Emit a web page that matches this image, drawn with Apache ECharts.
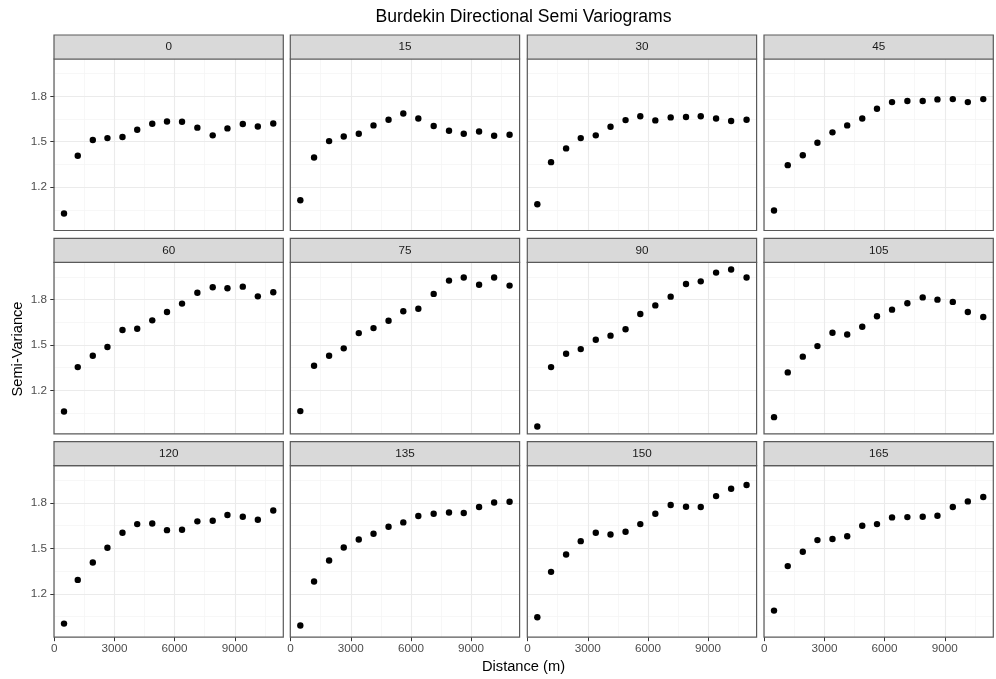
<!DOCTYPE html>
<html><head><meta charset="utf-8">
<script src="https://cdn.jsdelivr.net/npm/echarts@6/dist/echarts.min.js"></script>
<style>html,body{margin:0;padding:0;background:#fff}#c{width:996px;height:679px}</style>
</head><body><div id="c"></div>
<script>
// ---- data ----
const directions = ['0','15','30','45','60','75','90','105','120','135','150','165'];
const distance = [485,1170,1920,2650,3400,4135,4885,5620,6370,7135,7900,8635,9400,10150,10920];
const sv0   = [1.025,1.407,1.511,1.524,1.531,1.579,1.619,1.634,1.632,1.593,1.542,1.588,1.617,1.601,1.621];
const sv15  = [1.113,1.396,1.504,1.535,1.553,1.608,1.645,1.687,1.654,1.604,1.573,1.553,1.568,1.540,1.546];
const sv30  = [1.087,1.365,1.456,1.524,1.542,1.599,1.643,1.668,1.641,1.661,1.663,1.668,1.654,1.637,1.645];
const sv45  = [1.045,1.345,1.411,1.493,1.562,1.608,1.654,1.718,1.762,1.769,1.769,1.780,1.782,1.762,1.782];
const sv60  = [1.060,1.354,1.429,1.487,1.599,1.608,1.663,1.718,1.774,1.846,1.882,1.875,1.886,1.822,1.849];
const sv75  = [1.063,1.363,1.429,1.478,1.579,1.612,1.661,1.723,1.740,1.838,1.926,1.946,1.899,1.946,1.893];
const sv90  = [0.961,1.354,1.442,1.473,1.535,1.562,1.604,1.705,1.762,1.820,1.904,1.921,1.979,1.999,1.946];
const sv105 = [1.023,1.319,1.423,1.493,1.581,1.570,1.621,1.690,1.734,1.776,1.815,1.800,1.785,1.718,1.685];
const sv120 = [1.003,1.292,1.407,1.504,1.604,1.661,1.665,1.621,1.623,1.679,1.683,1.721,1.709,1.690,1.751];
const sv135 = [0.990,1.281,1.420,1.506,1.559,1.597,1.643,1.672,1.714,1.729,1.738,1.734,1.774,1.804,1.809];
const sv150 = [1.045,1.345,1.460,1.548,1.604,1.592,1.610,1.661,1.729,1.787,1.776,1.774,1.846,1.895,1.919];
const sv165 = [1.089,1.383,1.478,1.555,1.562,1.581,1.650,1.661,1.705,1.707,1.709,1.716,1.774,1.811,1.840];
const panelValues = [sv0,sv15,sv30,sv45,sv60,sv75,sv90,sv105,sv120,sv135,sv150,sv165];
const xMajorTicks = [0,3000,6000,9000];
const xMinorTicks = [1500,4500,7500,10500];
const yMajorTicks = [1.2,1.5,1.8];
const yMinorTicks = [1.05,1.35,1.65,1.95];
const xRange = [-15, 11420];
const yRange = [0.913, 2.047];

// ---- layout ----
const FONT = 'Liberation Sans, Arial, sans-serif';
const colLeft = [54, 290.3, 527.3, 764];
const rowTop = [59, 262.3, 465.7];
const PW = 229.3, PH = 171.5, STRIP = 24;
const BORDER = '#5a5a5a';

const grids = [], xAxes = [], yAxes = [], series = [], graphics = [];
panelValues.forEach((vals, i) => {
  const r = Math.floor(i / 4), c = i % 4;
  const bottom = r === 2, left = c === 0;
  grids.push({left: colLeft[c], top: rowTop[r], width: PW, height: PH,
    show: true, backgroundColor: 'transparent', borderColor: BORDER, borderWidth: 1.2, z: 3});
  xAxes.push({type: 'value', gridIndex: i, min: xRange[0], max: xRange[1], z: 2,
    axisLine: {show: false},
    axisTick: {show: bottom, length: 4, lineStyle: {color: '#333'}, customValues: xMajorTicks},
    axisLabel: {show: bottom, customValues: xMajorTicks, color: '#4d4d4d', fontSize: 11.7, margin: 6, fontFamily: FONT,
      formatter: v => String(v)},
    splitLine: {show: true, lineStyle: {color: '#ebebeb', width: 1.1}}});
  xAxes.push({type: 'value', gridIndex: i, min: xRange[0], max: xRange[1], z: 1,
    axisLine: {show: false}, axisTick: {show: false, customValues: xMinorTicks},
    axisLabel: {show: false, customValues: xMinorTicks},
    splitLine: {show: true, lineStyle: {color: '#f3f3f3', width: 0.7}}});
  yAxes.push({type: 'value', gridIndex: i, min: yRange[0], max: yRange[1], z: 2,
    axisLine: {show: false},
    axisTick: {show: left, length: 4, lineStyle: {color: '#333'}, customValues: yMajorTicks},
    axisLabel: {show: left, customValues: yMajorTicks, color: '#4d4d4d', fontSize: 11.7, margin: 7, fontFamily: FONT,
      formatter: v => v.toFixed(1)},
    splitLine: {show: true, lineStyle: {color: '#ebebeb', width: 1.1}}});
  yAxes.push({type: 'value', gridIndex: i, min: yRange[0], max: yRange[1], z: 1,
    axisLine: {show: false}, axisTick: {show: false, customValues: yMinorTicks},
    axisLabel: {show: false, customValues: yMinorTicks},
    splitLine: {show: true, lineStyle: {color: '#f3f3f3', width: 0.7}}});
  series.push({type: 'scatter', xAxisIndex: 2 * i, yAxisIndex: 2 * i,
    data: distance.map((d, k) => [d, vals[k]]),
    symbolSize: 6.4, itemStyle: {color: '#000', opacity: 1}, silent: true, z: 5});
  graphics.push({type: 'rect', shape: {x: colLeft[c], y: rowTop[r] - STRIP, width: PW, height: STRIP},
    style: {fill: '#d9d9d9', stroke: BORDER, lineWidth: 1.2}, z: 10});
  graphics.push({type: 'text', x: colLeft[c] + PW / 2, y: rowTop[r] - STRIP / 2,
    style: {text: directions[i], fill: '#1a1a1a', font: '11.7px ' + FONT, textAlign: 'center', textVerticalAlign: 'middle'}, z: 11});
});
graphics.push({type: 'text', x: 523.5, y: 17, style: {text: 'Burdekin Directional Semi Variograms',
  fill: '#000', font: '17.6px ' + FONT, textAlign: 'center', textVerticalAlign: 'middle'}, z: 11});
graphics.push({type: 'text', x: 523.5, y: 667, style: {text: 'Distance (m)',
  fill: '#000', font: '14.67px ' + FONT, textAlign: 'center', textVerticalAlign: 'middle'}, z: 11});
graphics.push({type: 'text', x: 18, y: 349, rotation: Math.PI / 2, style: {text: 'Semi-Variance',
  fill: '#000', font: '14.67px ' + FONT, textAlign: 'center', textVerticalAlign: 'middle'}, z: 11});

const chart = echarts.init(document.getElementById('c'), null, {renderer: 'canvas'});
chart.setOption({animation: false, backgroundColor: '#fff', grid: grids, xAxis: xAxes, yAxis: yAxes,
  series: series, graphic: graphics});
</script></body></html>
